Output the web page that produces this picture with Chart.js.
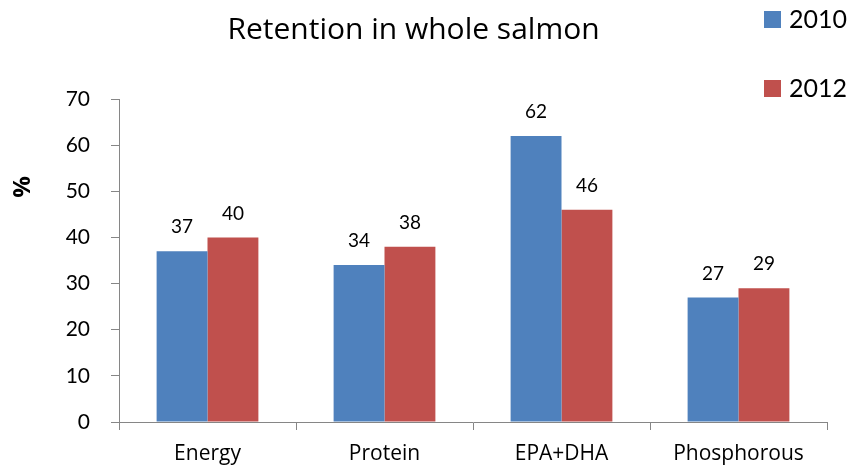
<!DOCTYPE html>
<html>
<head>
<meta charset="utf-8">
<script src="https://cdn.jsdelivr.net/npm/chart.js@4.4.0/dist/chart.umd.min.js"></script>
<style>
  html, body { margin: 0; padding: 0; background: #fff; }
  #wrap { width: 851px; height: 469px; }
</style>
</head>
<body>
<div id="wrap"><canvas id="retChart" width="851" height="469"></canvas></div>
<script>
// chart data
const categories = ['Energy', 'Protein', 'EPA+DHA', 'Phosphorous'];
const values2010 = [37, 34, 62, 27];
const values2012 = [40, 38, 46, 29];
const yTicks = [0, 10, 20, 30, 40, 50, 60, 70];

const FONT = 'Lato, "Open Sans", sans-serif';
const TEXT_FONT = '"Open Sans", Lato, sans-serif';
const AXIS_GRAY = '#868686';

// value labels over each bar
const barLabels = {
    id: 'barLabels',
    afterDatasetsDraw(chart) {
        const ctx = chart.ctx;
        ctx.save();
        ctx.font = '19px ' + FONT;
        ctx.fillStyle = '#000';
        ctx.textAlign = 'center';
        ctx.textBaseline = 'middle';
        chart.data.datasets.forEach((ds, i) => {
            chart.getDatasetMeta(i).data.forEach((bar, j) => {
                ctx.fillText(ds.data[j], bar.x, bar.y - 24);
            });
        });
        ctx.restore();
    }
};

// legend in the top right corner + rotated "%" label
const extras = {
    id: 'extras',
    afterDraw(chart) {
        const ctx = chart.ctx;
        ctx.save();
        ctx.textBaseline = 'middle';
        ctx.textAlign = 'left';
        ctx.font = '25px ' + FONT;
        chart.data.datasets.forEach((ds, i) => {
            const top = 11 + i * 69;
            ctx.fillStyle = ds.backgroundColor;
            ctx.fillRect(764, top, 17, 17);
            ctx.fillStyle = '#000';
            ctx.fillText(ds.label, 789, top + 9);
        });

        ctx.translate(23, 187);
        ctx.rotate(-Math.PI / 2);
        ctx.textAlign = 'center';
        ctx.font = 'bold 24px ' + TEXT_FONT;
        ctx.fillText('%', 0, 0);
        ctx.restore();
    }
};

new Chart(document.getElementById('retChart'), {
    type: 'bar',
    data: {
        labels: categories,
        datasets: [
            { label: '2010', data: values2010, backgroundColor: '#4F81BD' },
            { label: '2012', data: values2012, backgroundColor: '#C0504D' }
        ]
    },
    options: {
        responsive: false,
        animation: false,
        layout: { padding: { top: 0, right: 24, bottom: 0, left: 0 } },
        datasets: {
            bar: { categoryPercentage: 0.575, barPercentage: 1.0 }
        },
        plugins: {
            legend: { display: false },
            tooltip: { enabled: false },
            title: {
                display: true,
                text: 'Retention in whole salmon',
                color: '#000',
                font: { family: TEXT_FONT, size: 30, weight: 'normal' },
                padding: { top: 12, bottom: 51 }
            }
        },
        scales: {
            x: {
                grid: {
                    drawOnChartArea: false,
                    drawTicks: true,
                    tickLength: 8,
                    color: AXIS_GRAY
                },
                border: { display: true, color: AXIS_GRAY },
                ticks: {
                    color: '#000',
                    padding: 11,
                    font: { family: TEXT_FONT, size: 21 }
                },
                afterFit(scale) { scale.height = 47; }
            },
            y: {
                min: 0,
                max: 70,
                afterBuildTicks(scale) {
                    scale.ticks = yTicks.map(v => ({ value: v }));
                },
                grid: {
                    drawOnChartArea: false,
                    drawTicks: true,
                    tickLength: 8,
                    color: AXIS_GRAY
                },
                border: { display: true, color: AXIS_GRAY },
                ticks: {
                    color: '#000',
                    padding: 21,
                    font: { family: FONT, size: 21 }
                },
                afterFit(scale) { scale.width = 119; }
            }
        }
    },
    plugins: [barLabels, extras]
});
</script>
</body>
</html>
